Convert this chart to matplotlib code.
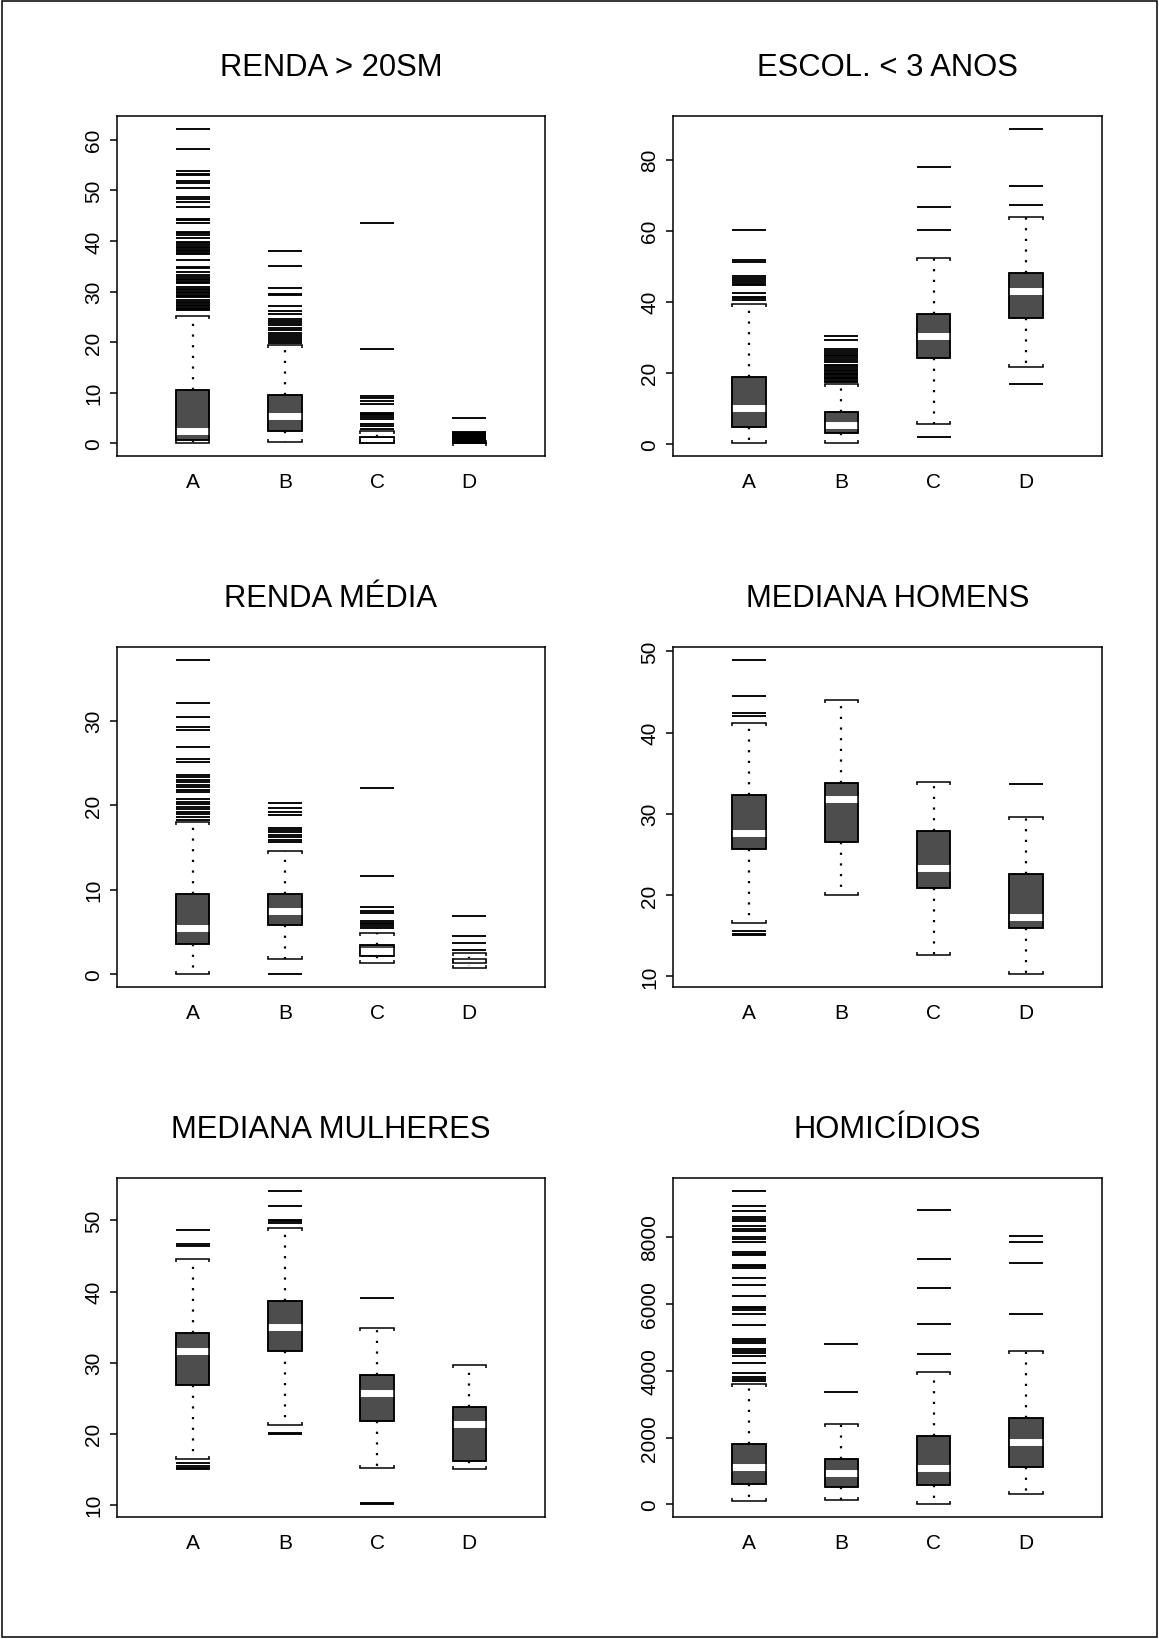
import matplotlib
matplotlib.use("Agg")
import matplotlib.pyplot as plt
from matplotlib.markers import TICKDOWN, TICKUP
from matplotlib.patches import Rectangle, PathPatch
import numpy as np

plt.rcParams['font.family'] = ['Liberation Sans', 'DejaVu Sans']

CATEGORIES = ["A", "B", "C", "D"]

# ---- RENDA > 20SM ----
renda20_lo = [0.0, 0.2, 0.0, 0.0]
renda20_q1 = [0.6, 2.5, 0.0, 0.0]
renda20_med = [2.4, 5.5, 0.5, 0.0]
renda20_q3 = [10.5, 9.6, 1.2, 0.0]
renda20_hi = [25.1, 19.4, 2.5, 0.0]
renda20_out = [
    [26.3, 26.5, 26.8, 27.1, 27.4, 27.7, 28.0, 28.3, 28.9, 29.1, 29.4, 29.7,
     30.0, 30.3, 30.6, 30.9, 31.6, 31.9, 32.2, 32.5, 32.9, 33.2, 33.9, 34.6,
     34.9, 36.3, 37.4, 37.7, 38.0, 38.3, 38.6, 38.9, 39.2, 39.5, 39.8, 40.5,
     41.1, 41.5, 41.8, 43.6, 44.1, 44.4, 46.7, 47.7, 48.2, 48.7, 50.5, 51.5,
     51.8, 53.0, 53.3, 53.8, 58.1, 62.2],
    [19.8, 20.2, 20.6, 21.0, 21.4, 21.8, 22.4, 22.8, 23.4, 23.8, 24.2, 24.5,
     25.5, 26.2, 27.1, 29.4, 29.6, 30.8, 35.1, 38.1],
    [2.9, 3.4, 3.8, 4.8, 5.2, 5.6, 5.9, 6.1, 7.7, 8.3, 8.9, 9.3, 18.6, 43.6],
    [0.1, 0.2, 0.3, 0.4, 0.5, 0.6, 0.8, 0.9, 1.0, 1.1, 1.3, 1.4, 1.5, 1.7,
     1.8, 2.0, 2.1, 2.3, 5.1],
]
renda20_ticks = [0, 10, 20, 30, 40, 50, 60]

# ---- ESCOL. < 3 ANOS ----
escol_lo = [0.2, 0.1, 5.7, 21.6]
escol_q1 = [4.7, 3.1, 24.0, 35.5]
escol_med = [10.1, 5.4, 30.4, 42.9]
escol_q3 = [18.8, 8.9, 36.6, 48.1]
escol_hi = [39.3, 16.9, 52.3, 63.9]
escol_out = [
    [40.6, 41.0, 41.2, 42.4, 44.6, 45.0, 45.5, 46.0, 46.6, 47.3, 51.2, 51.6, 60.1],
    [17.4, 17.8, 18.1, 18.5, 18.9, 19.3, 19.6, 20.0, 20.4, 20.9, 21.3, 21.8,
     22.3, 22.9, 23.5, 24.0, 24.6, 25.1, 25.6, 26.1, 26.6, 29.3, 30.4],
    [1.9, 60.1, 66.7, 77.8],
    [16.7, 67.2, 72.6, 88.7],
]
escol_ticks = [0, 20, 40, 60, 80]

# ---- RENDA MÉDIA ----
rmedia_lo = [0.1, 1.8, 1.3, 0.8]
rmedia_q1 = [3.55, 5.8, 2.17, 1.35]
rmedia_med = [5.5, 7.5, 2.8, 1.55]
rmedia_q3 = [9.47, 9.45, 3.47, 1.8]
rmedia_hi = [18.0, 14.6, 4.86, 2.5]
rmedia_out = [
    [18.3, 18.6, 18.9, 19.2, 19.5, 19.8, 20.1, 20.4, 20.7, 21.5, 21.8, 22.1,
     22.4, 22.7, 23.0, 23.3, 23.6, 25.1, 25.4, 26.9, 28.9, 29.2, 30.4, 32.1, 37.2],
    [0.0, 15.6, 15.9, 16.2, 16.5, 16.8, 17.1, 17.3, 18.8, 19.2, 19.7, 20.2],
    [5.5, 5.7, 5.9, 6.1, 6.3, 7.2, 7.5, 8.0, 11.6, 22.0],
    [2.84, 3.75, 4.5, 6.9],
]
rmedia_ticks = [0, 10, 20, 30]

# ---- MEDIANA HOMENS ----
homens_lo = [16.5, 20.0, 12.6, 10.2]
homens_q1 = [25.6, 26.5, 20.85, 15.95]
homens_med = [27.6, 31.8, 23.3, 17.3]
homens_q3 = [32.25, 33.8, 27.9, 22.6]
homens_hi = [41.2, 44.0, 33.9, 29.6]
homens_out = [
    [15.0, 15.2, 15.5, 42.1, 42.4, 44.5, 49.0],
    [],
    [],
    [33.7],
]
homens_ticks = [10, 20, 30, 40, 50]

# ---- MEDIANA MULHERES ----
mulheres_lo = [16.5, 21.2, 15.2, 15.1]
mulheres_q1 = [26.9, 31.6, 21.8, 16.2]
mulheres_med = [31.7, 35.0, 25.7, 21.4]
mulheres_q3 = [34.2, 38.65, 28.3, 23.7]
mulheres_hi = [44.6, 48.9, 34.9, 29.7]
mulheres_out = [
    [15.0, 15.2, 15.5, 15.9, 46.4, 46.7, 48.7],
    [20.0, 20.1, 49.7, 49.9, 50.0, 52.0, 54.2],
    [10.05, 10.2, 39.1],
    [],
]
mulheres_ticks = [10, 20, 30, 40, 50]

# ---- HOMICÍDIOS ----
homic_lo = [110, 130, 0, 310]
homic_q1 = [608, 508, 578, 1116]
homic_med = [1126, 946, 1076, 1873]
homic_q3 = [1803, 1345, 2042, 2600]
homic_hi = [3600, 2421, 3965, 4593]
homic_out = [
    [3680, 3760, 3810, 3940, 4240, 4440, 4540, 4600, 4660, 4840, 4880, 4960,
     5360, 5710, 5830, 5880, 5920, 6250, 6570, 6780, 7080, 7120, 7170, 7470,
     7500, 7540, 7850, 7930, 8000, 8170, 8250, 8320, 8470, 8530, 8590, 8780,
     8920, 9390],
    [3377, 4802],
    [4493, 5409, 6485, 7352, 8816],
    [5708, 7232, 7850, 8020],
]
homic_ticks = [0, 2000, 4000, 6000, 8000]

PANELS = [
    ("RENDA > 20SM", renda20_lo, renda20_q1, renda20_med, renda20_q3, renda20_hi, renda20_out, renda20_ticks),
    ("ESCOL. < 3 ANOS", escol_lo, escol_q1, escol_med, escol_q3, escol_hi, escol_out, escol_ticks),
    ("RENDA MÉDIA", rmedia_lo, rmedia_q1, rmedia_med, rmedia_q3, rmedia_hi, rmedia_out, rmedia_ticks),
    ("MEDIANA HOMENS", homens_lo, homens_q1, homens_med, homens_q3, homens_hi, homens_out, homens_ticks),
    ("MEDIANA MULHERES", mulheres_lo, mulheres_q1, mulheres_med, mulheres_q3, mulheres_hi, mulheres_out, mulheres_ticks),
    ("HOMICÍDIOS", homic_lo, homic_q1, homic_med, homic_q3, homic_hi, homic_out, homic_ticks),
]

BOX_FILL = "#4d4d4d"
W = 0.36
LW = 1.1
TICK_FS = 15

FIG_W, FIG_H = 1159, 1640
fig = plt.figure(figsize=(FIG_W / 100, FIG_H / 100), dpi=100)

# axes rectangles in pixels: (left, right) and (top, bottom)
col_x = [(117, 545), (673, 1102)]
row_y = [(117, 457), (648, 988), (1179, 1518)]


def draw_panel(ax, title, lo, q1, med, q3, hi, out, ticks):
    pos = np.arange(1, len(CATEGORIES) + 1)
    stats = [dict(whislo=a, q1=b, med=c, q3=d, whishi=e, fliers=f, label=lab)
             for a, b, c, d, e, f, lab in zip(lo, q1, med, q3, hi, out, CATEGORIES)]
    bp = ax.bxp(
        stats, positions=pos, widths=W, capwidths=W, patch_artist=True,
        boxprops=dict(facecolor=BOX_FILL, edgecolor="black", linewidth=LW),
        medianprops=dict(color="white", linewidth=5, solid_capstyle="butt"),
        whiskerprops=dict(color="black", linewidth=1.6, linestyle=(0, (1, 3.8))),
        capprops=dict(color="black", linewidth=LW, zorder=2.3),
        flierprops=dict(marker="_", markersize=24.5, markeredgewidth=1.35,
                        markeredgecolor="black", linestyle="none", zorder=2.3),
    )
    # box outlines on top of the median band
    for patch in bp["boxes"]:
        ax.add_patch(PathPatch(patch.get_path(), transform=ax.transData,
                               facecolor="none", edgecolor="black",
                               linewidth=LW, zorder=2.2))
    # short end ticks on the staples, pointing toward the box
    for p, a, e in zip(pos, lo, hi):
        ax.plot([p - W / 2, p + W / 2], [e, e], linestyle="none", marker=TICKDOWN,
                markersize=2.3, markeredgewidth=LW, color="black", zorder=2.3)
        ax.plot([p - W / 2, p + W / 2], [a, a], linestyle="none", marker=TICKUP,
                markersize=2.3, markeredgewidth=LW, color="black", zorder=2.3)

    allv = list(lo) + list(hi) + [v for grp in out for v in grp]
    vmin, vmax = min(allv), max(allv)
    r = vmax - vmin
    ax.set_ylim(vmin - 0.04 * r, vmax + 0.04 * r)
    ax.set_xlim(0.177, 4.823)

    ax.set_xticks(pos)
    ax.set_xticklabels(CATEGORIES, fontsize=TICK_FS)
    ax.tick_params(axis="x", length=0, pad=11.5)
    ax.set_yticks(ticks)
    ax.set_yticklabels([str(t) for t in ticks], rotation=90, va="center", fontsize=TICK_FS)
    ax.tick_params(axis="y", length=5, width=LW, pad=5)
    for s in ax.spines.values():
        s.set_linewidth(LW)

    h_px = ax.get_position().height * FIG_H
    ax.text(0.5, 1 + 41 / h_px, title, transform=ax.transAxes, ha="center",
            va="baseline", fontsize=22.3)


for i, spec in enumerate(PANELS):
    r, c = divmod(i, 2)
    x0, x1 = col_x[c]
    y0, y1 = row_y[r]
    ax = fig.add_axes([x0 / FIG_W, 1 - y1 / FIG_H, (x1 - x0) / FIG_W, (y1 - y0) / FIG_H])
    draw_panel(ax, *spec)

fig.add_artist(Rectangle((2 / FIG_W, 2 / FIG_H), (FIG_W - 4) / FIG_W, (FIG_H - 4) / FIG_H,
                         transform=fig.transFigure, fill=False, edgecolor="black",
                         linewidth=LW))

fig.savefig("out.png", dpi=100)
